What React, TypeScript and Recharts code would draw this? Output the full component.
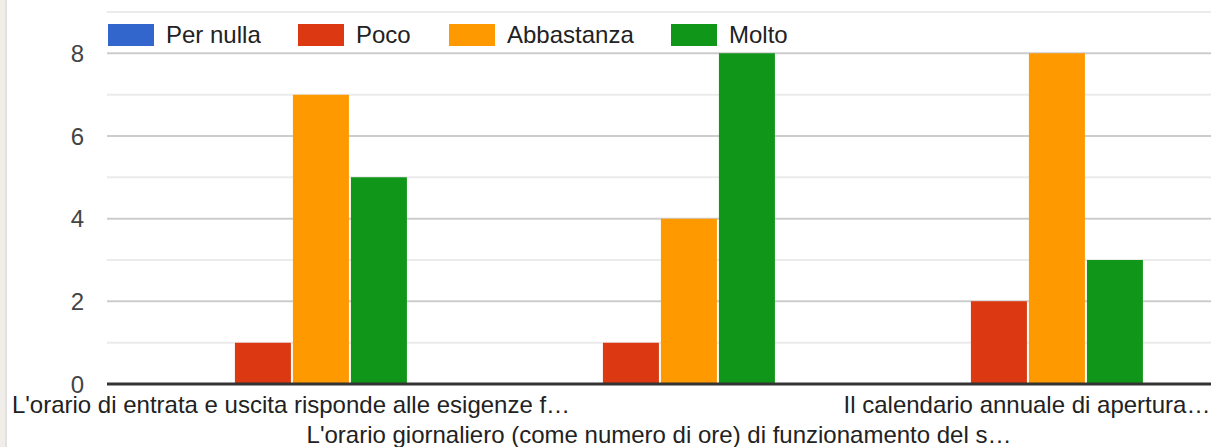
import { BarChart, Bar, XAxis, YAxis, CartesianGrid } from 'recharts';

const categories = [
  "L'orario di entrata e uscita risponde alle esigenze f…",
  "L'orario giornaliero (come numero di ore) di funzionamento del s…",
  'Il calendario annuale di apertura…',
];
const perNulla = [0, 0, 0];
const poco = [1, 1, 2];
const abbastanza = [7, 4, 8];
const molto = [5, 8, 3];
const yTicks = [0, 1, 2, 3, 4, 5, 6, 7, 8, 9];
const majorGrid = [2, 4, 6, 8];
const minorGrid = [1, 3, 5, 7, 9];

const series = [
  { key: 'perNulla', name: 'Per nulla', color: '#3366cc' },
  { key: 'poco', name: 'Poco', color: '#dc3912' },
  { key: 'abbastanza', name: 'Abbastanza', color: '#ff9900' },
  { key: 'molto', name: 'Molto', color: '#109618' },
];

const data = categories.map((label, i) => ({
  label,
  perNulla: perNulla[i],
  poco: poco[i],
  abbastanza: abbastanza[i],
  molto: molto[i],
}));

const FONT = '"Liberation Sans", Arial, sans-serif';

// axis baseline sits at y=384; labels alternate between two rows
function XTick({ x, payload, index }: any) {
  const baseline = index % 2 === 0 ? 413 : 443;
  return (
    <text x={x} y={baseline} textAnchor="middle" fontSize={24} fontFamily={FONT} fill="#222">
      {payload.value}
    </text>
  );
}

function YTick({ y, payload }: any) {
  if (payload.value % 2 !== 0) return null;
  return (
    <text x={84} y={y} textAnchor="end" dominantBaseline="central" fontSize={24} fontFamily={FONT} fill="#444">
      {payload.value}
    </text>
  );
}

const legendX = [108, 298, 449, 671];

export default function App() {
  return (
    <div style={{ position: 'relative', width: 1211, height: 447, background: '#fff', overflow: 'hidden' }}>
      <style>{'body{margin:0}'}</style>
      <div style={{ position: 'absolute', left: 0, top: 0, width: 5, height: 447, background: '#f1eee9' }} />
      <div style={{ position: 'absolute', left: 5, top: 0, width: 2, height: 447, background: '#e2e0e0' }} />
      <BarChart
        width={1211}
        height={447}
        data={data}
        margin={{ top: 12, right: 0, left: 0, bottom: 0 }}
        barCategoryGap="19%"
        barGap={2}
      >
        <CartesianGrid vertical={false} horizontalValues={minorGrid} stroke="#ebebeb" strokeWidth={2} />
        <CartesianGrid vertical={false} horizontalValues={majorGrid} stroke="#cccccc" strokeWidth={2} />
        <XAxis
          dataKey="label"
          height={63}
          axisLine={{ stroke: '#333333', strokeWidth: 3 }}
          tickLine={false}
          interval={0}
          tick={<XTick />}
        />
        <YAxis
          width={107}
          domain={[0, 9]}
          ticks={yTicks}
          axisLine={false}
          tickLine={false}
          tick={<YTick />}
        />
        {series.map((s) => (
          <Bar key={s.key} dataKey={s.key} name={s.name} fill={s.color} isAnimationActive={false} />
        ))}
      </BarChart>
      {series.map((s, i) => (
        <div
          key={s.key}
          style={{ position: 'absolute', left: legendX[i], top: 24, display: 'flex', alignItems: 'center', height: 22 }}
        >
          <div style={{ width: 46, height: 22, background: s.color }} />
          <span style={{ marginLeft: 12, fontSize: 24, fontFamily: FONT, color: '#222', lineHeight: '22px' }}>
            {s.name}
          </span>
        </div>
      ))}
    </div>
  );
}
